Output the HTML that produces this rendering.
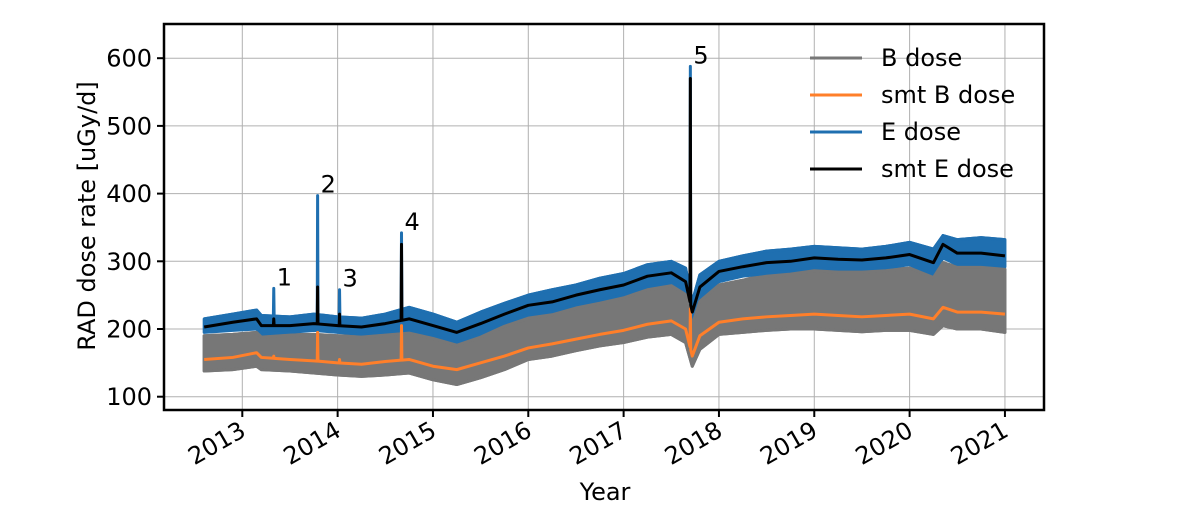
<!DOCTYPE html>
<html><head><meta charset="utf-8"><style>
html,body{margin:0;padding:0;background:#fff}
svg{display:block;font-family:"DejaVu Sans","Liberation Sans",sans-serif}
</style></head><body>
<svg id="chart" width="1186" height="525" viewBox="0 0 1186 525">
<g id="grid"></g>
<g id="series"></g>
<g id="axes"></g>
</svg>
<script>
const years = [2012.6,2012.9,2013.15,2013.2,2013.5,2013.75,2014.0,2014.25,2014.5,2014.75,2015.0,2015.25,2015.5,2015.75,2016.0,2016.25,2016.5,2016.75,2017.0,2017.25,2017.5,2017.65,2017.72,2017.8,2018.0,2018.25,2018.5,2018.75,2019.0,2019.25,2019.5,2019.75,2020.0,2020.25,2020.35,2020.5,2020.75,2021.0];
const smtE =  [203,210,215,205,205,208,205,203,208,215,205,195,208,222,235,240,250,258,265,278,283,270,225,262,285,292,298,300,305,303,302,305,310,298,325,312,312,308];
const smtB =  [155,158,165,158,155,153,150,148,152,155,145,140,150,160,172,178,185,192,198,207,212,200,160,190,210,215,218,220,222,220,218,220,222,215,232,225,225,222];
const eHi =   [215,222,228,220,218,222,218,216,222,232,222,210,225,238,250,258,265,275,282,295,300,290,240,280,300,308,315,318,322,320,318,322,328,318,338,332,335,332];
const eLo =   [195,198,200,192,195,198,195,192,195,198,190,180,192,208,220,225,235,242,250,262,268,255,210,245,270,278,282,285,290,288,288,290,295,280,305,295,295,292];
const bHi =   [190,192,195,190,192,192,190,190,192,195,188,178,190,205,222,228,238,245,250,262,265,255,210,245,265,272,282,288,290,288,285,288,290,280,298,292,292,288];
const bLo =   [138,140,145,140,138,135,132,130,132,135,125,118,128,140,155,160,168,175,180,188,192,180,145,170,192,195,198,200,200,198,196,198,198,192,205,200,200,195];
const spikeYears = [2013.33,2013.79,2014.02,2014.67,2017.7];
const spikeE     = [260,397,258,342,588];
const spikeSmtE  = [215,262,222,325,570];
const spikeSmtB  = [160,195,155,205,230];
const spikeLabels = ["1","2","3","4","5"];
const yTicks = [100,200,300,400,500,600];
const xTicks = [2013,2014,2015,2016,2017,2018,2019,2020,2021];

const NS="http://www.w3.org/2000/svg";
const L=164,R=1044,T=24,B=410;
const x=t=>242.3+(t-2013)*95.33;
const y=v=>396.7-(v-100)*0.677;
function mk(tag,attrs,parent){const e=document.createElementNS(NS,tag);for(const k in attrs)e.setAttribute(k,attrs[k]);parent.appendChild(e);return e;}
function interp(arr,t){for(let i=0;i<years.length-1;i++){if(t>=years[i]&&t<=years[i+1]){const f=(t-years[i])/(years[i+1]-years[i]);return arr[i]+(arr[i+1]-arr[i])*f;}}return arr[arr.length-1];}
function withSpikes(arr,peaks){
  const pts=years.map((t,i)=>[t,arr[i]]);
  spikeYears.forEach((t,i)=>{if(peaks){pts.push([t-0.004,interp(arr,t-0.004)]);pts.push([t,peaks[i]]);pts.push([t+0.004,interp(arr,t+0.004)]);}});
  pts.sort((a,b)=>a[0]-b[0]);return pts;
}
const grid=document.getElementById('grid'),series=document.getElementById('series'),axes=document.getElementById('axes');
yTicks.forEach(v=>{const l=mk('line',{x1:L,x2:R,y1:y(v),y2:y(v),stroke:'#b0b0b0','stroke-width':1},grid);

});
xTicks.forEach(t=>{const l=mk('line',{x1:x(t),x2:x(t),y1:T,y2:B,stroke:'#b0b0b0','stroke-width':1},grid);

});

function band(hi,lo,color,name){
  const top=years.map((t,i)=>x(t)+','+y(hi[i]));
  const bot=years.map((t,i)=>x(t)+','+y(lo[i])).reverse();
  const p=mk('polygon',{points:top.concat(bot).join(' '),fill:color,stroke:color,'stroke-width':3,'stroke-linejoin':'round'},series);
  
  
}
function line(pts,color,w,name){
  const p=mk('polyline',{points:pts.map(q=>x(q[0])+','+y(q[1])).join(' '),fill:'none',stroke:color,'stroke-width':w,'stroke-linejoin':'round'},series);
  
  
}
band(bHi,bLo,'#777777','b-dose-band');
band(eHi,eLo,'#1f6fb0','e-dose-band');
line(withSpikes(eHi,spikeE),'#1f6fb0',3,'e-dose-spikes');
band(bHi.map((v,i)=>Math.min(v,eLo[i]-4)),bLo,'#777777','b-dose-band-front');
line(withSpikes(smtB,spikeSmtB),'#ff7f2a',3,'smt-b-dose-line');
line(withSpikes(smtE,spikeSmtE),'#000000',3,'smt-e-dose-line');
spikeYears.forEach((t,i)=>{const tx=mk('text',{x:x(t)+3,y:y(spikeE[i])-3,'font-size':24,fill:'#000'},series);tx.textContent=spikeLabels[i];

});

const frame=mk('rect',{x:L,y:T,width:R-L,height:B-T,fill:'none',stroke:'#000','stroke-width':2.5},axes);


yTicks.forEach(v=>{mk('line',{x1:L-7,x2:L,y1:y(v),y2:y(v),stroke:'#000','stroke-width':2},axes);
const tx=mk('text',{x:L-12,y:y(v)+8.5,'font-size':24,'text-anchor':'end'},axes);tx.textContent=v;

});
xTicks.forEach(t=>{mk('line',{x1:x(t),x2:x(t),y1:B,y2:B+7,stroke:'#000','stroke-width':2},axes);
const tx=mk('text',{x:0,y:0,'font-size':24,'text-anchor':'end',transform:`translate(${x(t)+5},${B+25}) rotate(-30)`},axes);tx.textContent=t;

});
const yl=mk('text',{x:0,y:0,'font-size':24,'text-anchor':'middle',transform:'translate(95,216) rotate(-90)'},axes);yl.textContent='RAD dose rate [uGy/d]';


const xl=mk('text',{x:605,y:500,'font-size':24,'text-anchor':'middle'},axes);xl.textContent='Year';



const legendItems=[['B dose','#777777'],['smt B dose','#ff7f2a'],['E dose','#1f6fb0'],['smt E dose','#000000']];
const lg=mk('g',{},axes);


legendItems.forEach((it,i)=>{const cy=58+i*37;
const g=mk('g',{},lg);


mk('line',{x1:810,x2:862,y1:cy,y2:cy,stroke:it[1],'stroke-width':3},g);
const tx=mk('text',{x:881,y:cy+8,'font-size':24},g);tx.textContent=it[0];});
</script>
</body></html>
